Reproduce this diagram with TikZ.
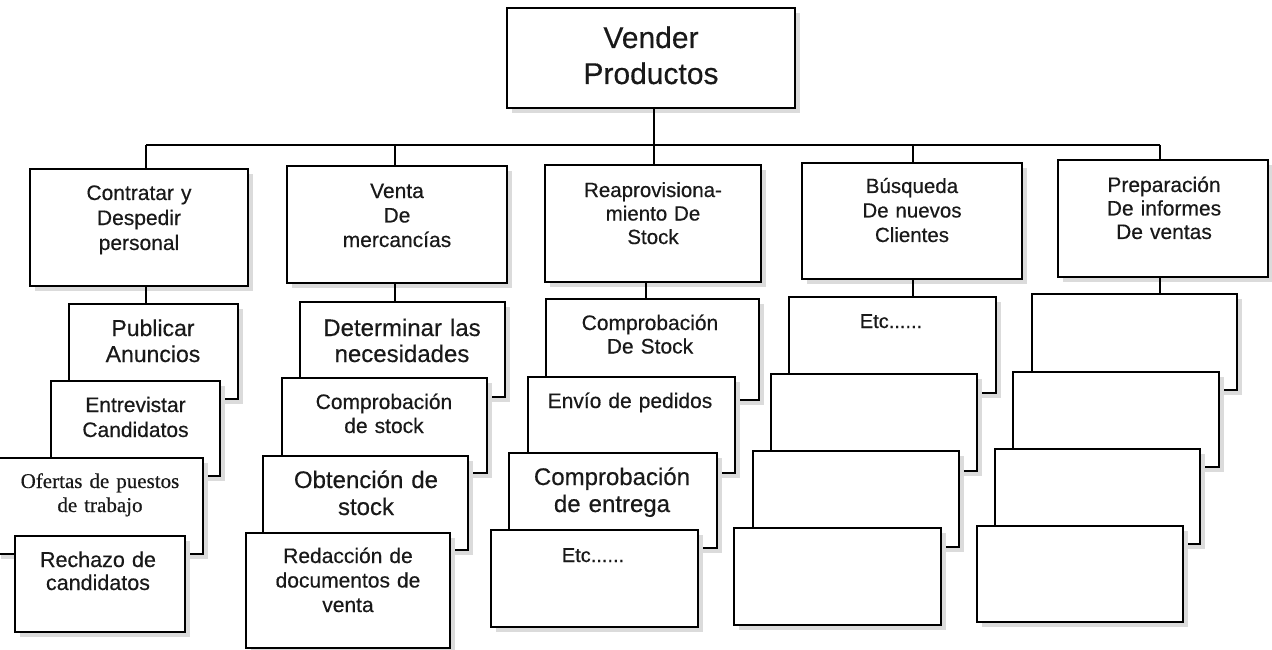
\documentclass[tikz,border=0pt]{standalone}
\usepackage{fontspec}
\setmainfont{Liberation Sans}[FakeBold=0.4]
\newfontfamily\tnr{Liberation Serif}[FakeBold=0.4]
\begin{document}
\begin{tikzpicture}[x=1pt,y=-1pt,
  boxst/.style={draw=black, line width=2.3pt, fill=white, inner sep=0pt, outer sep=0pt, anchor=north west},
  shadowc/.style={fill=gray!28},
  txt/.style={anchor=base, inner sep=0pt, text width=230pt, align=center, text=black!90},
  conn/.style={draw=black, line width=1.9pt}]
\useasboundingbox (0,0) rectangle (1272,650);
\newcommand\bx[5]{%
  \fill[shadowc] (#2+5,#3+5) rectangle (#4+5,#5+5);
  \node[boxst, minimum width={(#4-#2)*1pt}, minimum height={(#5-#3)*1pt}] (#1) at (#2,#3) {};}
\newcommand\tx[6]{\node[txt, font=\fontsize{#4pt}{#5pt}\selectfont] (#1) at (#2,#3) {#6};}
% root
\bx{root}{507}{8}{795}{108}
\tx{troot}{651}{48}{30}{36}{Vender\\Productos}
% level 1
\bx{c1}{30}{169}{248}{286}
\bx{c2}{287}{166}{507}{283}
\bx{c3}{545}{165}{761}{282}
\bx{c4}{802}{163}{1022}{279}
\bx{c5}{1058}{160}{1268}{277}
\tx{tc1}{139}{200}{21}{25}{Contratar y\\Despedir\\personal}
\tx{tc2}{397}{198}{21}{24.5}{Venta\\De\\mercancías}
\tx{tc3}{653}{197}{20.5}{23.5}{Reaprovisiona-\\miento De\\Stock}
\tx{tc4}{912}{193}{20.5}{24.5}{Búsqueda\\De nuevos\\Clientes}
\tx{tc5}{1164}{192}{21}{23.5}{Preparación\\De informes\\De ventas}
% column 1
\bx{s11}{69}{304}{238}{399}
\bx{s12}{51}{381}{220}{476}
\bx{s13}{-4}{458}{203}{554}
\bx{s14}{15}{536}{185}{632}
\tx{t11}{153}{336}{23}{26}{Publicar\\Anuncios}
\tx{t12}{135.5}{412}{21}{25}{Entrevistar\\Candidatos}
\node[txt, font=\tnr\fontsize{21pt}{24pt}\selectfont] (t13) at (100,488) {Ofertas de puestos\\de trabajo};
\tx{t14}{98}{567}{21.5}{23}{Rechazo de\\candidatos}
% column 2
\bx{s21}{300}{302}{505}{397}
\bx{s22}{282}{378}{487}{473}
\bx{s23}{263}{456}{468}{550}
\bx{s24}{246}{533}{450}{648}
\tx{t21}{402}{336}{24}{26}{Determinar las\\necesidades}
\tx{t22}{384}{409}{21}{24}{Comprobación\\de stock}
\tx{t23}{366}{488}{24}{27}{Obtención de\\stock}
\tx{t24}{348}{563}{21}{24.5}{Redacción de\\documentos de\\venta}
% column 3
\bx{s31}{546}{299}{759}{400}
\bx{s32}{528}{377}{735}{473}
\bx{s33}{509}{453}{717}{548}
\bx{s34}{491}{530}{698}{627}
\tx{t31}{650}{330}{21}{23.5}{Comprobación\\De Stock}
\tx{t32}{630}{408}{21}{24}{Envío de pedidos}
\tx{t33}{612}{485}{24}{27}{Comprobación\\de entrega}
\tx{t34}{593}{562}{20}{24}{Etc......}
% column 4
\bx{s41}{789}{297}{996}{393}
\bx{s42}{771}{374}{977}{471}
\bx{s43}{753}{451}{959}{547}
\bx{s44}{734}{528}{941}{625}
\tx{t41}{891}{328}{20}{24}{Etc......}
% column 5
\bx{s51}{1032}{294}{1237}{390}
\bx{s52}{1013}{372}{1219}{467}
\bx{s53}{995}{449}{1200}{544}
\bx{s54}{977}{526}{1183}{622}
% connectors
\coordinate (busL) at (146,145);
\coordinate (busR) at (1160,145);
\coordinate (busM) at (654,145);
\draw[conn] (busM |- root.south) -- (busM);
\draw[conn] (busL) -- (busR);
\draw[conn] (busL) -- (busL |- c1.north);
\draw[conn] (395,145) coordinate (b2) -- (b2 |- c2.north);
\draw[conn] (busM) -- (busM |- c3.north);
\draw[conn] (913,145) coordinate (b4) -- (b4 |- c4.north);
\draw[conn] (busR) -- (busR |- c5.north);
\coordinate (k1) at (146,0);
\coordinate (k2) at (395,0);
\coordinate (k3) at (646,0);
\coordinate (k4) at (913,0);
\coordinate (k5) at (1160,0);
\draw[conn] (k1 |- c1.south) -- (k1 |- s11.north);
\draw[conn] (k2 |- c2.south) -- (k2 |- s21.north);
\draw[conn] (k3 |- c3.south) -- (k3 |- s31.north);
\draw[conn] (k4 |- c4.south) -- (k4 |- s41.north);
\draw[conn] (k5 |- c5.south) -- (k5 |- s51.north);
\end{tikzpicture}
\end{document}
